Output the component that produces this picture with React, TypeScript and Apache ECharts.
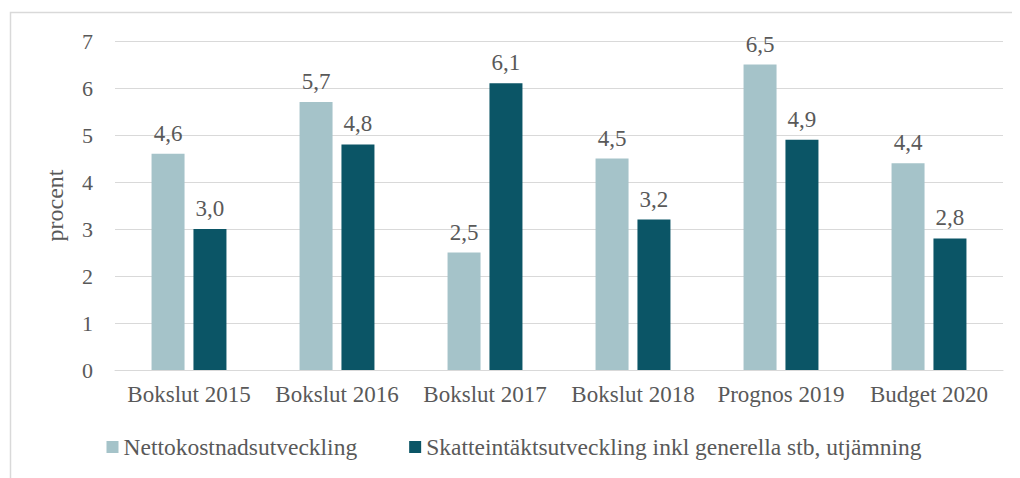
import React, { useEffect, useRef } from "react";
import * as echarts from "echarts";

const categories = ["Bokslut 2015", "Bokslut 2016", "Bokslut 2017", "Bokslut 2018", "Prognos 2019", "Budget 2020"];
const netto = [4.6, 5.7, 2.5, 4.5, 6.5, 4.4];
const skatt = [3.0, 4.8, 6.1, 3.2, 4.9, 2.8];
const seriesNames = ["Nettokostnadsutveckling", "Skatteintäktsutveckling inkl generella stb, utjämning"];

const FONT = "'Liberation Serif', 'Times New Roman', serif";
const TEXT = "#595959";

export default function App() {
  const ref = useRef<HTMLDivElement>(null);
  useEffect(() => {
    const chart = echarts.init(ref.current!, null, { renderer: "svg" });
    const label = {
      show: true,
      position: "top" as const,
      distance: 9,
      color: TEXT,
      fontFamily: FONT,
      fontSize: 23,
      formatter: (p: any) => Number(p.value).toFixed(1).replace(".", ","),
    };
    chart.setOption({
      animation: false,
      textStyle: { fontFamily: FONT },
      graphic: [
        {
          type: "rect",
          shape: { x: 2.5, y: 4.5, width: 1030, height: 500 },
          style: { fill: "none", stroke: "#d9d9d9", lineWidth: 1.5 },
          silent: true,
        },
      ],
      grid: { left: 107, right: 17, top: 33, bottom: 108 },
      legend: {
        bottom: 14,
        left: "center",
        itemWidth: 12,
        itemHeight: 12,
        itemGap: 52,
        icon: "rect",
        textStyle: { color: TEXT, fontFamily: FONT, fontSize: 23.5 },
        data: seriesNames,
      },
      xAxis: {
        type: "category",
        data: categories,
        axisLine: { lineStyle: { color: "#d9d9d9" } },
        axisTick: { show: false },
        axisLabel: { color: TEXT, fontFamily: FONT, fontSize: 23, margin: 13, interval: 0 },
      },
      yAxis: {
        type: "value",
        min: 0,
        max: 7,
        interval: 1,
        name: "procent",
        nameLocation: "middle",
        nameGap: 48,
        nameRotate: 90,
        nameTextStyle: { color: TEXT, fontFamily: FONT, fontSize: 24 },
        axisLine: { show: false },
        axisTick: { show: false },
        axisLabel: { color: TEXT, fontFamily: FONT, fontSize: 22, margin: 22 },
        splitLine: { lineStyle: { color: "#d9d9d9" } },
      },
      series: [
        {
          name: seriesNames[0],
          type: "bar",
          data: netto,
          barWidth: 33,
          barGap: "27%",
          itemStyle: { color: "#a5c3c9" },
          label,
        },
        {
          name: seriesNames[1],
          type: "bar",
          data: skatt,
          barWidth: 33,
          barGap: "27%",
          itemStyle: { color: "#0b5566" },
          label,
        },
      ],
    });
    return () => chart.dispose();
  }, []);
  return <div ref={ref} style={{ width: 1012, height: 470 }} />;
}
